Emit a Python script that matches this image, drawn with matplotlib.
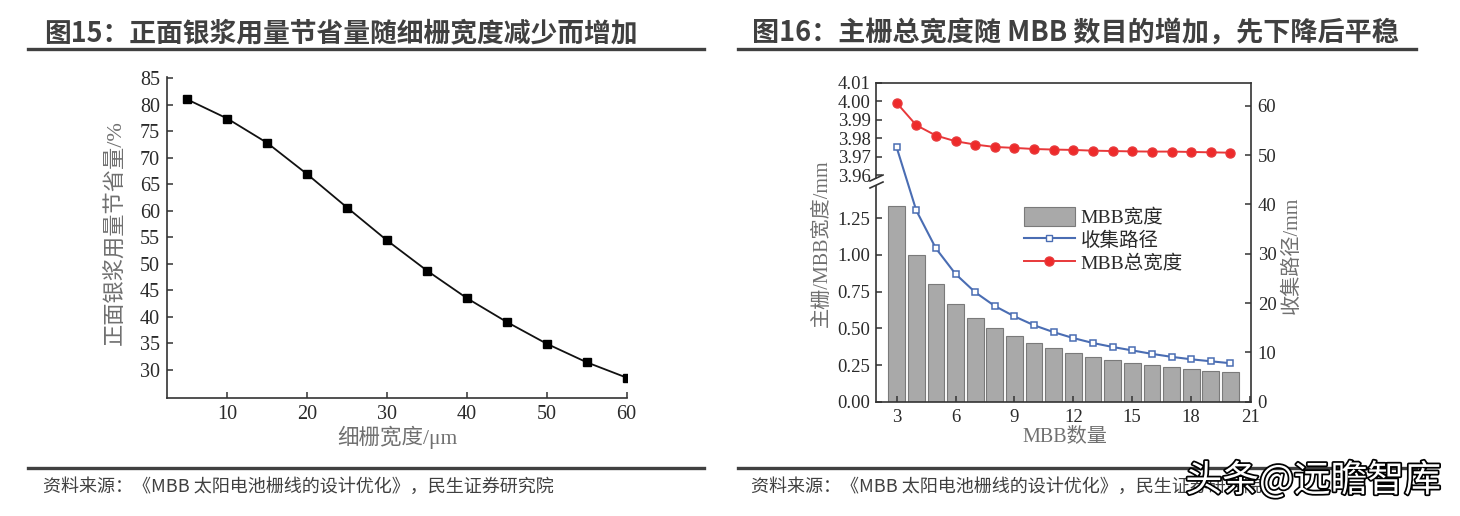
import matplotlib
matplotlib.use("Agg")
import matplotlib.pyplot as plt
from matplotlib.lines import Line2D
from matplotlib.patches import Patch
import matplotlib.patheffects as pe
from matplotlib.ticker import FormatStrFormatter

# ---------------- data ----------------
# Figure 15
grid_width = [5, 10, 15, 20, 25, 30, 35, 40, 45, 50, 55, 60]
silver_saving = [81.0, 77.4, 72.8, 66.9, 60.6, 54.4, 48.7, 43.5, 39.0, 34.9, 31.4, 28.5]
x_ticks_15 = [10, 20, 30, 40, 50, 60]
y_ticks_15 = [30, 35, 40, 45, 50, 55, 60, 65, 70, 75, 80, 85]

# Figure 16
mbb_count = [3, 4, 5, 6, 7, 8, 9, 10, 11, 12, 13, 14, 15, 16, 17, 18, 19, 20]
mbb_width = [1.333, 1.0, 0.80, 0.667, 0.572, 0.50, 0.445, 0.40, 0.364, 0.333,
             0.308, 0.287, 0.267, 0.25, 0.236, 0.223, 0.211, 0.20]
collect_path = [51.6, 38.8, 31.1, 25.9, 22.2, 19.4, 17.3, 15.5, 14.1, 12.9,
                11.9, 11.1, 10.4, 9.7, 9.1, 8.6, 8.2, 7.8]
total_width = [3.9991, 3.9870, 3.9814, 3.9783, 3.9765, 3.9752, 3.9747, 3.9741, 3.9738,
               3.9736, 3.9732, 3.9730, 3.9728, 3.9727, 3.9727, 3.9725, 3.9723, 3.9721]
x_ticks_16 = [3, 6, 9, 12, 15, 18, 21]
y_ticks_16_top = [3.96, 3.97, 3.98, 3.99, 4.00, 4.01]
y_ticks_16_bot = [0.00, 0.25, 0.50, 0.75, 1.00, 1.25]
y_ticks_16_right = [0, 10, 20, 30, 40, 50, 60]

legend_labels = ["MBB宽度", "收集路径", "MBB总宽度"]
title15 = "图15：正面银浆用量节省量随细栅宽度减少而增加"
title16 = "图16：主栅总宽度随 MBB 数目的增加，先下降后平稳"
source = "资料来源：《MBB 太阳电池栅线的设计优化》，民生证券研究院"
watermark = "头条@远瞻智库"

# ---------------- style ----------------
plt.rcParams['font.family'] = ['Noto Sans CJK SC', 'DejaVu Sans']
SERIF = ['Liberation Serif', 'Noto Sans CJK SC', 'DejaVu Sans']
TICK_FS = 14.5
LABEL_FS = 15.5
DARK = '#404040'
AX_C = '#333333'
LAB_C = '#707070'

W, H = 1460, 516
fig = plt.figure(figsize=(W / 100, H / 100), dpi=100)


def rect(l, t, r, b):
    return [l / W, 1 - b / H, (r - l) / W, (b - t) / H]


def fx(px):
    return px / W


def fy(py):
    return 1 - py / H


def style_ticks(ax, fs=TICK_FS):
    for lab in ax.get_xticklabels() + ax.get_yticklabels():
        lab.set_fontfamily(SERIF)
        lab.set_fontsize(fs)
        lab.set_color('#2a2a2a')


# ---------------- titles / footers ----------------
for x0, x1, tx, title, tfs in [(28, 704, 44, title15, 19.3), (738, 1416, 752, title16, 19.5)]:
    fig.text(fx(tx), fy(33), title, fontsize=tfs, fontweight='bold', color=DARK,
             ha='left', va='center')
    fig.add_artist(Line2D([fx(x0), fx(x1)], [fy(49), fy(49)], color=DARK, lw=2.4))
    fig.add_artist(Line2D([fx(x0), fx(x1)], [fy(468), fy(468)], color=DARK, lw=2.4))
    fig.text(fx(tx - 1), fy(487), source, fontsize=13, color=DARK, ha='left', va='center')

# ---------------- Figure 15 ----------------
ax1 = fig.add_axes(rect(167, 76.7, 626.6, 398.3))
ax1.plot(grid_width, silver_saving, color='#111111', lw=1.3, marker='s',
         markersize=6, markerfacecolor='black', markeredgecolor='black')
ax1.set_xlim(2.45, 60)
ax1.set_ylim(24.6, 85.3)
ax1.set_xticks(x_ticks_15)
ax1.set_yticks(y_ticks_15)
for s in ['top', 'right']:
    ax1.spines[s].set_visible(False)
for s in ['left', 'bottom']:
    ax1.spines[s].set_color(AX_C)
    ax1.spines[s].set_linewidth(1.2)
ax1.tick_params(direction='in', length=4, width=1.1, color=AX_C, pad=5)
style_ticks(ax1)
fig.text(fx(116), fy(233), "正面银浆用量节省量/%", rotation=90, ha='center', va='center',
         fontsize=16, color=LAB_C, family=SERIF)
fig.text(fx(397), fy(437), "细栅宽度/μm", ha='center', va='center',
         fontsize=LABEL_FS, color=LAB_C, family=SERIF)

# ---------------- Figure 16 ----------------
L, R, T, B = 876, 1250.7, 82.7, 401.7
XL = (1.95, 21.03)
TOP_B, BOT_T = 178, 186

axB = fig.add_axes(rect(L, BOT_T, R, B))
axR = fig.add_axes(rect(L, T, R, B))
axT = fig.add_axes(rect(L, T, R, TOP_B))
for a in (axR, axT):
    a.patch.set_visible(False)

# bars (lower left scale)
axB.bar(mbb_count, mbb_width, width=0.85, color='#a9a9a9', edgecolor='#7a7a7a', lw=0.8)
axB.set_xlim(*XL)
axB.set_ylim(0, 1.47)
axB.set_yticks(y_ticks_16_bot)
axB.yaxis.set_major_formatter(FormatStrFormatter('%.2f'))
axB.set_xticks([])
for s in ['top', 'right', 'bottom']:
    axB.spines[s].set_visible(False)
axB.spines['left'].set_color(AX_C)
axB.spines['left'].set_linewidth(1.2)
axB.tick_params(axis='y', direction='in', length=4, width=1.1, color=AX_C, pad=4)
style_ticks(axB, 13.5)

# collection path (right scale)
axR.plot(mbb_count, collect_path, color='#4a6db3', lw=1.5, marker='s', markersize=5,
         markerfacecolor='white', markeredgecolor='#4a6db3', markeredgewidth=1.1)
axR.set_xlim(*XL)
axR.set_ylim(0, 64.7)
axR.set_xticks(x_ticks_16)
axR.set_yticks(y_ticks_16_right)
axR.yaxis.tick_right()
axR.spines['left'].set_visible(False)
for s in ['top', 'right', 'bottom']:
    axR.spines[s].set_color(AX_C)
    axR.spines[s].set_linewidth(1.2)
axR.tick_params(direction='in', length=4, width=1.1, color=AX_C, pad=5)
style_ticks(axR, 13.5)

# total width (upper left scale)
axT.plot(mbb_count, total_width, color='#e8383a', lw=1.4, marker='o', markersize=6.5,
         markerfacecolor='#ee2a2a', markeredgecolor='#e8383a')
axT.set_xlim(*XL)
axT.set_ylim(3.9584, 4.01)
axT.set_yticks(y_ticks_16_top)
axT.yaxis.set_major_formatter(FormatStrFormatter('%.2f'))
axT.set_xticks([])
for s in ['top', 'right', 'bottom']:
    axT.spines[s].set_visible(False)
axT.spines['left'].set_color(AX_C)
axT.spines['left'].set_linewidth(1.2)
axT.tick_params(axis='y', direction='in', length=4, width=1.1, color=AX_C, pad=4)
style_ticks(axT, 13.5)

# axis break marks
for dy in (0, 7):
    fig.add_artist(Line2D([fx(870), fx(883)], [fy(181 + dy), fy(175 + dy)],
                          color=AX_C, lw=1.2))

# legend
handles = [Patch(facecolor='#a9a9a9', edgecolor='#7a7a7a', lw=0.8),
           Line2D([], [], color='#4a6db3', lw=1.5, marker='s', markersize=5,
                  markerfacecolor='white', markeredgecolor='#4a6db3'),
           Line2D([], [], color='#e8383a', lw=1.4, marker='o', markersize=6.5,
                  markerfacecolor='#ee2a2a', markeredgecolor='#e8383a')]
leg = axT.legend(handles, legend_labels, loc='upper left',
                 bbox_to_anchor=(fx(1024), fy(207)), bbox_transform=fig.transFigure,
                 frameon=False, handlelength=2.6, handleheight=1.1, handletextpad=0.3,
                 labelspacing=0.15, borderpad=0, borderaxespad=0,
                 prop={'family': SERIF, 'size': 14})
for t in leg.get_texts():
    t.set_color('#2a2a2a')

fig.text(fx(822), fy(243), "主栅/MBB宽度/mm", rotation=90, ha='center', va='center',
         fontsize=14.5, color=LAB_C, family=SERIF)
fig.text(fx(1292), fy(255), "收集路径/mm", rotation=90, ha='center', va='center',
         fontsize=14.5, color=LAB_C, family=SERIF)
fig.text(fx(1065), fy(437), "MBB数量", ha='center', va='center',
         fontsize=14.5, color=LAB_C, family=SERIF)

# watermark
fig.text(fx(1313), fy(481), watermark, ha='center', va='center', fontsize=26.5,
         color='white', path_effects=[pe.withStroke(linewidth=2.5, foreground='black')])

fig.savefig("out.png", dpi=100, facecolor='white')
